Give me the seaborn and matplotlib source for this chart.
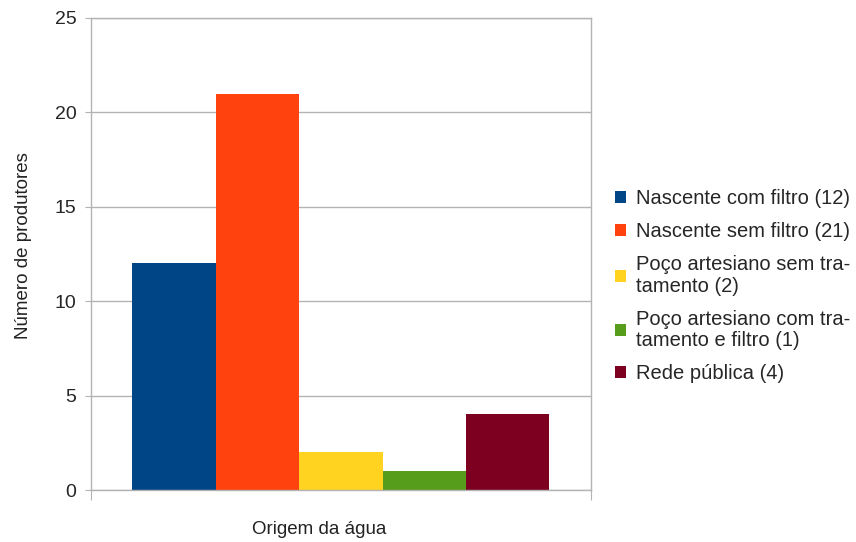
import pandas as pd
import seaborn as sns
import matplotlib.pyplot as plt

# data
origem = ['Nascente com filtro (12)',
          'Nascente sem filtro (21)',
          'Poço artesiano sem tra-\ntamento (2)',
          'Poço artesiano com tra-\ntamento e filtro (1)',
          'Rede pública (4)']
produtores = [12, 21, 2, 1, 4]
cores = ['#004586', '#ff420e', '#ffd320', '#579d1c', '#7e0021']

df = pd.DataFrame({'grupo': ['Origem'] * len(origem), 'origem': origem, 'n': produtores})

sns.set_style('white')
plt.rcParams['font.family'] = ['Liberation Sans', 'DejaVu Sans']

fig = plt.figure(figsize=(8.56, 5.42), dpi=100)
ax = fig.add_axes([0.1063, 0.0959, 0.5841, 0.8709])

sns.barplot(data=df, x='grupo', y='n', hue='origem', palette=cores,
            width=0.834, saturation=1, linewidth=0, ax=ax, legend=True)

ax.set_ylim(0, 25)
ax.set_xlim(-0.5, 0.5)
ax.set_yticks([0, 5, 10, 15, 20, 25])
ax.yaxis.grid(True, color='#b3b3b3', linewidth=1)
ax.set_axisbelow(True)
ax.set_xticks([-0.5, 0.5])
ax.set_xticklabels(['', ''])
ax.tick_params(axis='y', length=4.5, color='#b3b3b3', labelsize=14, pad=6, left=True)
ax.tick_params(axis='x', length=7, color='#b3b3b3', bottom=True)
for s in ax.spines.values():
    s.set_color('#b3b3b3')
    s.set_linewidth(1)

ax.set_ylabel('Número de produtores', fontsize=13.5, color='#222222')
ax.yaxis.set_label_coords(-0.118, 0.517)
ax.set_xlabel('Origem da água', fontsize=13.5, color='#222222')
ax.xaxis.set_label_coords(0.456, -0.066)

leg = ax.legend(loc='center left', bbox_to_anchor=(1.049, 0.432), frameon=False,
                fontsize=14.5, handlelength=0.5, handleheight=0.5, handletextpad=0.5,
                labelspacing=0.7, borderaxespad=0, borderpad=0)
for t in leg.get_texts():
    t.set_linespacing(1.15)

fig.savefig('out.png', dpi=100)
